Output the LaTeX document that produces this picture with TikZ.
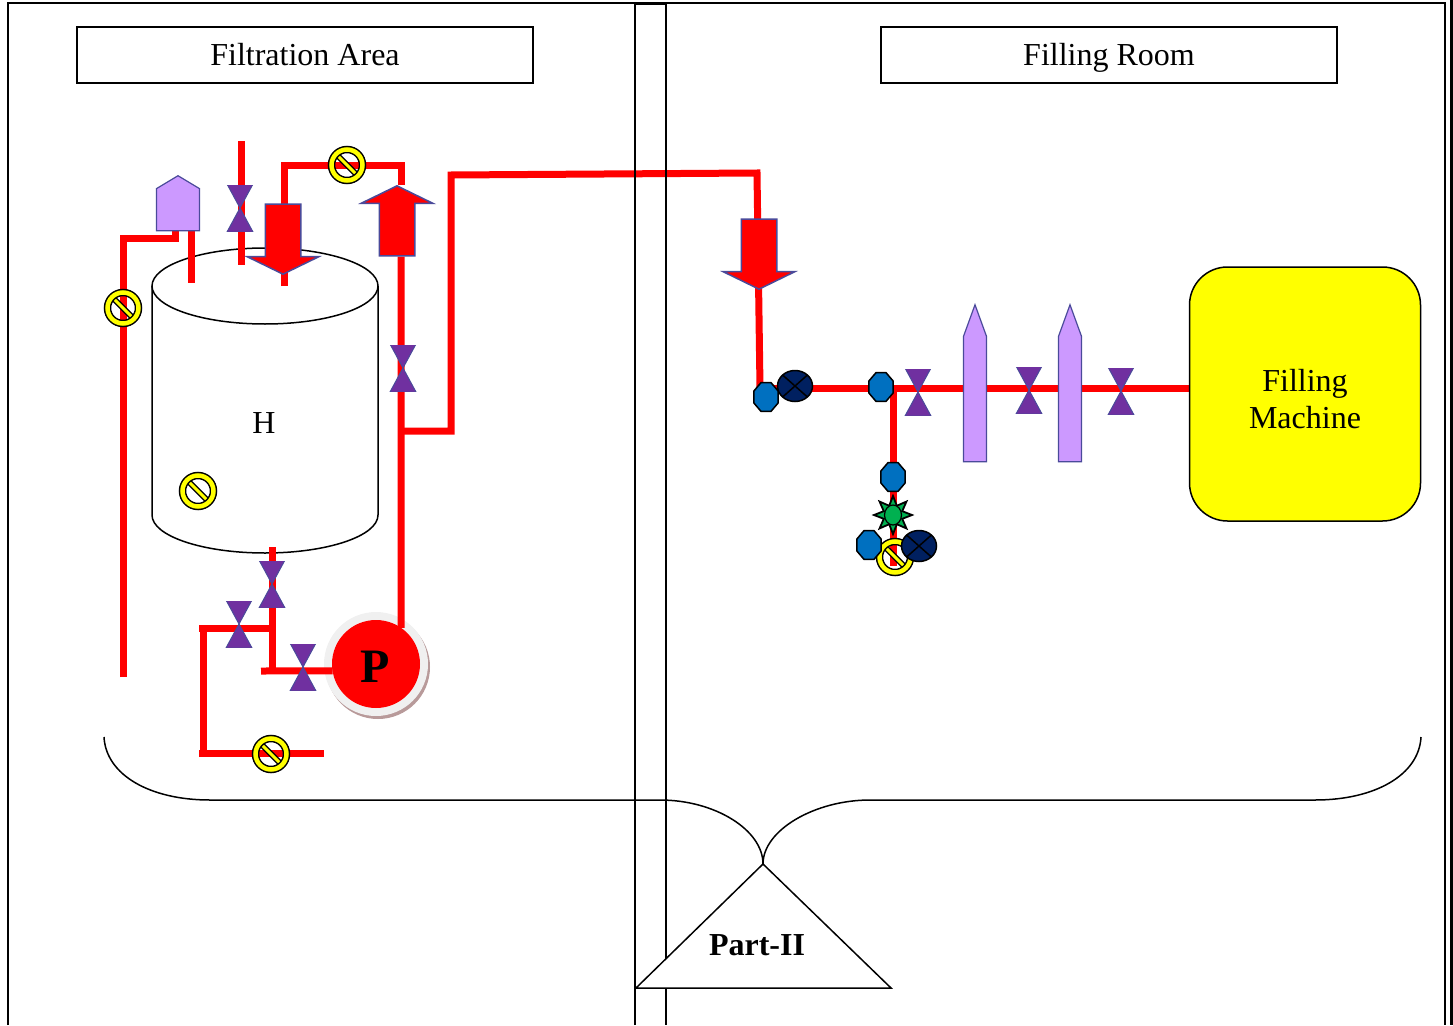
\documentclass[tikz,border=0pt]{standalone}
\usepackage{fontspec}
\setmainfont{Liberation Serif}
\usetikzlibrary{shapes.geometric,shapes.arrows,backgrounds}
\definecolor{pipered}{HTML}{FF0000}
\definecolor{valvepurple}{HTML}{7030A0}
\definecolor{edgeblue}{HTML}{4A4A9A}
\definecolor{lilac}{HTML}{CC99FF}
\definecolor{octblue}{HTML}{0070C0}
\definecolor{navy}{HTML}{002060}
\definecolor{sightgreen}{HTML}{00B050}
\definecolor{pumpshadow}{HTML}{B89A9A}
\definecolor{signyellow}{HTML}{FFFF00}
\begin{document}
\begin{tikzpicture}[x=1pt,y=-1pt,font=\fontsize{32}{37}\selectfont]
\tikzstyle{room} = [rectangle, draw=black, line width=1.5pt, minimum width=456pt, minimum height=56pt, inner sep=0pt, text height=28pt, text depth=7pt]
\tikzstyle{pipe} = [draw=pipered, line width=7pt]
\tikzstyle{valve} = [rectangle, inner sep=0pt, minimum width=28pt, minimum height=46pt, path picture={\draw[edgeblue, fill=valvepurple, line width=1pt] ([shift={(1pt,-1pt)}]path picture bounding box.south west) -- ([shift={(-1pt,1pt)}]path picture bounding box.north east) -- ([shift={(1pt,1pt)}]path picture bounding box.north west) -- ([shift={(-1pt,-1pt)}]path picture bounding box.south east) -- cycle;}]
\tikzstyle{stopsign} = [circle, inner sep=0pt, outer sep=0pt, minimum size=31pt, draw=black, line width=1.5pt, double=signyellow, double distance=4.5pt, path picture={\draw[black, line width=6pt] (path picture bounding box.north west) -- (path picture bounding box.south east); \draw[signyellow, line width=3pt] (path picture bounding box.north west) -- (path picture bounding box.south east);}]
\tikzstyle{octnode} = [regular polygon, regular polygon sides=8, inner sep=0pt, minimum size=31pt, xscale=.85, transform shape, draw=black, line width=1.5pt, fill=octblue]
\tikzstyle{xcircle} = [ellipse, inner sep=0pt, minimum width=35pt, minimum height=31pt, draw=black, line width=1.5pt, fill=navy, path picture={\draw[black, line width=1.5pt] (path picture bounding box.north west) -- (path picture bounding box.south east) (path picture bounding box.north east) -- (path picture bounding box.south west);}]
\tikzstyle{flowarrow} = [single arrow, draw=edgeblue, fill=pipered, line width=1.5pt, inner sep=17pt, anchor=tip, minimum width=70pt, minimum height=70pt, single arrow head extend=18pt, single arrow tip angle=128]
\tikzstyle{candle} = [single arrow, draw=edgeblue, fill=lilac, line width=1.2pt, inner sep=0pt, anchor=tip, shape border rotate=90, minimum width=23pt, minimum height=157pt, single arrow head extend=0pt, single arrow tip angle=40]
\useasboundingbox (0,0) rectangle (1453,1025);
\node (filtration)[room] at (305,55) {Filtration Area};
\node (filling)[room] at (1109,55) {Filling Room};
\node (tankmark) at (264,423) {H};
\node (ventfilter)[candle, minimum width=43pt, minimum height=55pt, single arrow tip angle=118] at (178,175) {};
\node (ventvalve)[valve] at (240,208) {};
\node (inlet)[flowarrow, shape border rotate=270] at (283,275) {};
\node (outlet)[flowarrow, shape border rotate=90] at (397,185) {};
\node (fillinlet)[flowarrow, shape border rotate=270] at (759,290) {};
\node (drainstop)[stopsign] at (123,308) {};
\node (loopstop)[stopsign] at (347,165) {};
\node (tankstop)[stopsign] at (198,491) {};
\node (bypassstop)[stopsign] at (271,754) {};
\node (outvalve)[valve] at (403,368) {};
\node (bottomvalve)[valve] at (272,584) {};
\node (bypassvalve)[valve] at (239,624) {};
\node (suctionvalve)[valve] at (303,667) {};
\node (octleft)[octnode] at (766,397) {};
\node (xleft)[xcircle] at (795,386) {};
\node (octmain)[octnode] at (881,387) {};
\node (mainvalve)[valve] at (918,392) {};
\node (candleone)[candle] at (975,303) {};
\node (midvalve)[valve] at (1029,390) {};
\node (candletwo)[candle] at (1070,303) {};
\node (lastvalve)[valve] at (1121,391) {};
\node (machine)[rectangle, rounded corners=38pt, draw=black, line width=1.5pt, fill=signyellow, minimum width=231pt, minimum height=254pt, outer sep=0pt] at (1305,394) {};
\node (machinelabel)[align=center] at (1305,399) {Filling\\Machine};
\node (octdrop)[octnode] at (893,477) {};
\node (sight)[star, star points=8, star point ratio=1.9, inner sep=0pt, minimum size=38pt, draw=black, fill=sightgreen, line width=1.8pt] at (893,515) {};
\node (sightcore)[ellipse, inner sep=0pt, minimum width=17pt, minimum height=20pt, draw=black, fill=sightgreen, line width=1.2pt] at (893,515) {};
\node (dropstop)[stopsign] at (895,557) {};
\node (octlow)[octnode] at (869,545) {};
\node (xlow)[xcircle] at (919,546) {};
\begin{pgfonlayer}{background}
\node (tanktop)[ellipse, draw=black, line width=1.5pt, inner sep=0pt, outer sep=0pt, minimum width=226pt, minimum height=76pt] at (265,286) {};
\draw[black, line width=1.5pt] (tanktop.west) -- (152,515) arc [start angle=180, end angle=0, x radius=113, y radius=38] -- (tanktop.east);
\node (pumpshade)[circle, inner sep=0pt, minimum size=104pt, fill=pumpshadow] at (378,667) {};
\node (pumpring)[circle, inner sep=0pt, minimum size=104pt, fill=black!6] at (376,664) {};
\node (pump)[circle, inner sep=0pt, outer sep=0pt, minimum size=88pt, fill=pipered] at (376,664) {};
\coordinate (drainend) at (123,677);
\coordinate (draintop) at (123,238);
\coordinate (drainstep) at (175,238);
\coordinate (ventdrop) at (191,283);
\coordinate (venttop) at (241,141);
\coordinate (ventend) at (241,265);
\coordinate (inletend) at (284,286);
\coordinate (loopleft) at (284,165);
\coordinate (loopright) at (401,165);
\coordinate (tee) at (401,431);
\coordinate (riser) at (451,431);
\coordinate (risertop) at (451,175);
\coordinate (crossend) at (757,173);
\coordinate (mainend) at (760,388);
\coordinate (tankout) at (272,547);
\coordinate (suctionend) at (261,671);
\coordinate (suctiontee) at (272,671);
\coordinate (bypasstee) at (272,628);
\coordinate (bypassleft) at (199,628);
\coordinate (bypassdown) at (203,753);
\coordinate (bypassfar) at (199,753);
\coordinate (bypassend) at (324,753);
\coordinate (droptee) at (893,389);
\coordinate (dropend) at (893,566);
\draw[pipe] (drainend) -- (draintop) -- (drainstep) -- (drainstep |- ventfilter.south);
\draw[pipe] (ventfilter.south -| ventdrop) -- (ventdrop);
\draw[pipe] (venttop) -- (ventend);
\draw[pipe] (inletend) -- (loopleft) -- (loopright) -- (loopright |- outlet.tip);
\draw[pipe] (pump.55) -- (tee |- outlet.south);
\draw[pipe] (tee) -- (riser) -- (risertop) -- (crossend) -- (mainend);
\draw[pipe] (tankout) -- (suctiontee);
\draw[pipe] (suctionend) -- (pump.189);
\draw[pipe] (bypasstee) -- (bypassleft);
\draw[pipe] (203,628) -- (bypassdown);
\draw[pipe] (bypassfar) -- (bypassend);
\draw[pipe] (mainend) -- (machine.west |- mainend);
\draw[pipe] (droptee) -- (dropend);
\end{pgfonlayer}
\coordinate (braceleft) at (104,737);
\coordinate (braceright) at (1421,737);
\coordinate (bracetip) at (763,864);
\draw[black, line width=1.5pt] (8,1025) -- (8,3) -- (1445,3) -- (1445,1025);
\draw[black, line width=3pt] (1451.5,0) -- (1451.5,1025);
\draw[black, line width=1.5pt] (635,1025) -- (635,4) -- (666,4) -- (666,1025);
\draw[black, line width=1.5pt] (braceleft) .. controls (106,775) and (150,800) .. (210,800) -- (660,800) .. controls (715,800) and (763,830) .. (bracetip);
\draw[black, line width=1.5pt] (braceright) .. controls (1419,775) and (1375,800) .. (1315,800) -- (870,800) .. controls (815,800) and (763,830) .. (bracetip);
\draw[black, fill=white, line width=1.5pt] (bracetip) -- (636,988) -- (891,988) -- cycle;
\node (partlabel) at (757,945) {\textbf{Part-II}};
\node (pumplabel) at (375,667) {\fontsize{48}{48}\selectfont\textbf{P}};
\end{tikzpicture}
\end{document}
